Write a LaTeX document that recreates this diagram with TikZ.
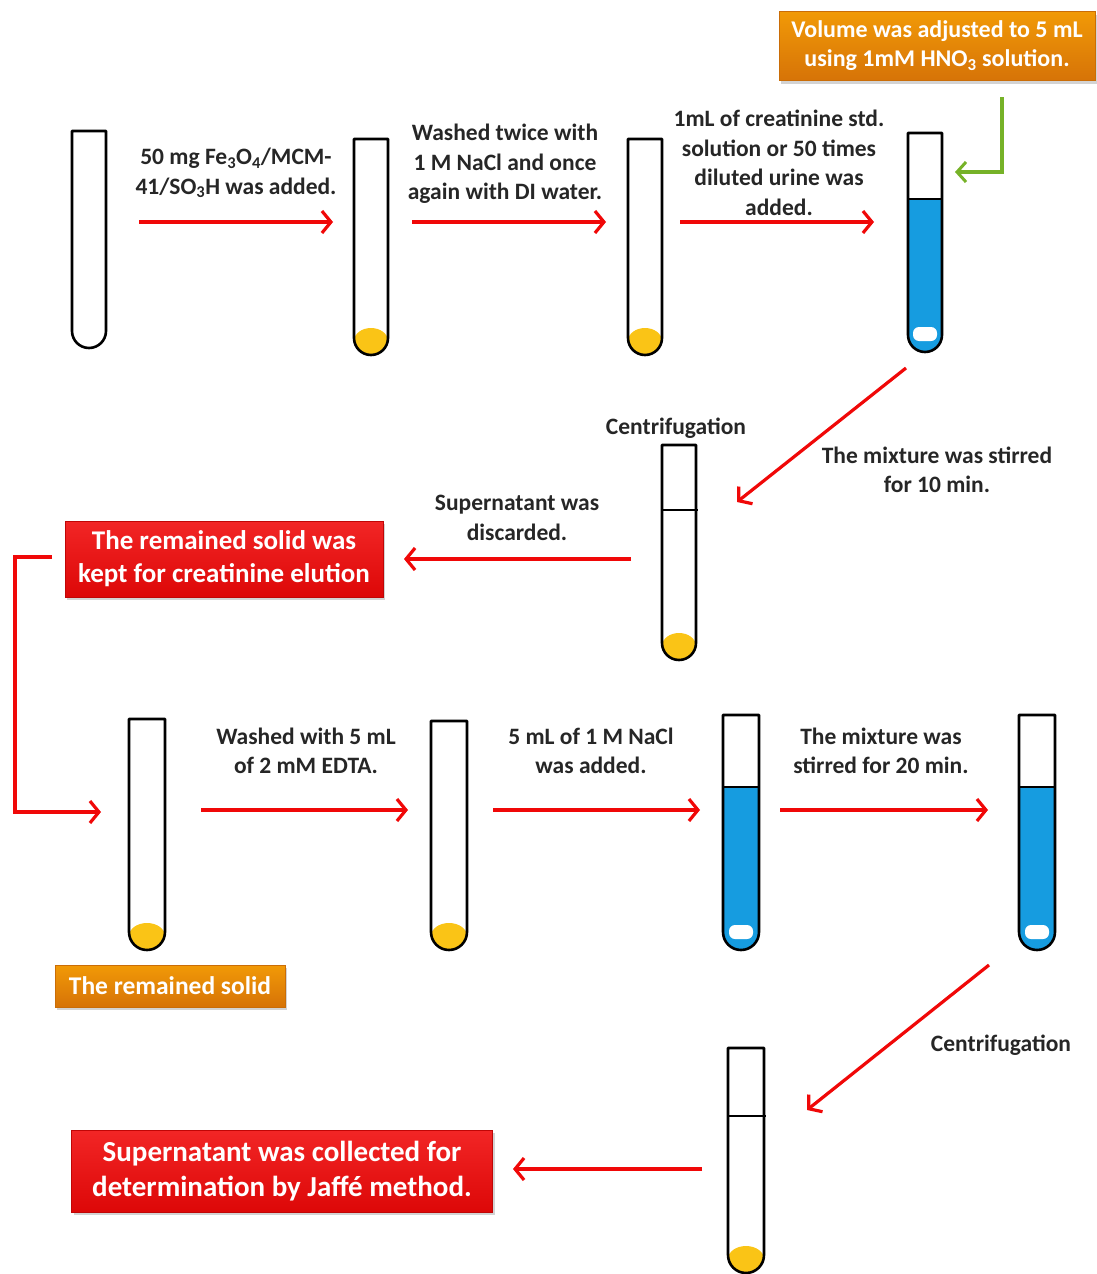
\documentclass[tikz,border=0pt]{standalone}
\usepackage{fontspec}
\setmainfont{Carlito}
\usetikzlibrary{arrows.meta,shadows}

\definecolor{flowred}{RGB}{240,8,8}
\definecolor{liquidblue}{RGB}{22,156,224}
\definecolor{pelletyellow}{RGB}{250,196,22}
\definecolor{boxorange}{RGB}{238,128,8}
\definecolor{addgreen}{RGB}{118,178,40}

% test tube: name, x, top, bottom, half width
\newcommand{\tube}[5]{%
  \coordinate (#1) at (#2,#3);
  \draw[tube] (#2-#5,#3) -- (#2-#5,#4-#5) arc (180:0:#5) -- (#2+#5,#3) -- cycle;}
% liquid: x, level, bottom, half width
\newcommand{\liquid}[4]{%
  \fill[liquidblue] (#1-#4,#2) -- (#1-#4,#3-#4) arc (180:0:#4) -- (#1+#4,#2) -- cycle;
  \fill[white,rounded corners=6pt] (#1-12,#3-25) rectangle (#1+12,#3-11);
  \draw[tube] (#1-#4,#2) -- (#1+#4,#2);}
% solid at the bottom: x, bottom, half width
\newcommand{\pellet}[3]{%
  \fill[pelletyellow] (#1,#2-14) ellipse [x radius=#3, y radius=13];}

\begin{document}
\begin{tikzpicture}[x=1pt,y=-1pt]
  \useasboundingbox (0,0) rectangle (1096,1274);
  \tikzstyle{tube}=[line width=2.6pt,line join=round]
  \tikzstyle{flow}=[draw=flowred,line width=3.2pt,-{Straight Barb[length=9pt,width=22pt,line width=3.2pt]}]
  \tikzstyle{note}=[align=center,text=black!85,font=\bfseries\fontsize{23.5}{29.5}\selectfont]
  \tikzstyle{box}=[align=center,text=white,inner sep=0pt,drop shadow={shadow xshift=2pt,shadow yshift=-3pt,opacity=0.35}]
  \tikzstyle{redbox}=[box,top color=flowred!88!white,bottom color=flowred!92!black,draw=flowred!80!black]
  \tikzstyle{orangebox}=[box,top color=boxorange!80!yellow,bottom color=boxorange!90!black,draw=boxorange!85!black]

  % first row of tubes
  \tube{t1}{89}{131}{348}{17}
  \pellet{371}{355}{17}
  \tube{t2}{371}{139}{355}{17}
  \pellet{645}{355}{17}
  \tube{t3}{645}{139}{355}{17}
  \liquid{925}{199}{352}{17}
  \tube{t4}{925}{133}{352}{17}

  % centrifuged tube
  \pellet{679}{660}{17}
  \tube{t5}{679}{445}{660}{17}
  \draw[tube] (662,510) -- (698,510);

  % elution row
  \pellet{147}{950}{18}
  \tube{t6}{147}{719}{950}{18}
  \pellet{449}{950}{18}
  \tube{t7}{449}{721}{950}{18}
  \liquid{741}{787}{950}{18}
  \tube{t8}{741}{715}{950}{18}
  \liquid{1037}{787}{950}{18}
  \tube{t9}{1037}{715}{950}{18}

  % last centrifuged tube
  \pellet{746}{1273}{18}
  \tube{t10}{746}{1048}{1273}{18}
  \draw[tube] (728,1116) -- (766,1116);

  % texts
  \node[note] (add) at (236,173) {50 mg Fe\textsubscript{3}O\textsubscript{4}/MCM-\\41/SO\textsubscript{3}H was added.};
  \node[note] (wash) at (505,164) {Washed twice with\\1 M NaCl and once\\again with DI water.};
  \node[note] (std) at (779,163) {1mL of creatinine std.\\solution or 50 times\\diluted urine was\\added.};
  \node[orangebox,minimum width=316pt,minimum height=69pt,font=\bfseries\fontsize{24}{29}\selectfont] (vol) at (937,46)
    {Volume was adjusted to 5 mL\\using 1mM HNO\textsubscript{3} solution.};
  \node[note] (cent1) at (676,428) {Centrifugation};
  \node[note] (stir1) at (937,470) {The mixture was stirred\\for 10 min.};
  \node[note] (disc) at (517,518) {Supernatant was\\discarded.};
  \node[redbox,minimum width=318pt,minimum height=76pt,font=\bfseries\fontsize{27}{33}\selectfont] (kept) at (224,559)
    {The remained solid was\\kept for creatinine elution};
  \node[note] (edta) at (306,751) {Washed with 5 mL\\of 2 mM EDTA.};
  \node[note] (nacl) at (591,751) {5 mL of 1 M NaCl\\was added.};
  \node[note] (stir2) at (881,751) {The mixture was\\stirred for 20 min.};
  \node[orangebox,minimum width=230pt,minimum height=42pt,font=\bfseries\fontsize{25.5}{28}\selectfont] (solid) at (170,986)
    {The remained solid};
  \node[note] (cent2) at (1001,1045) {Centrifugation};
  \node[redbox,minimum width=421pt,minimum height=82pt,font=\bfseries\fontsize{29}{35}\selectfont] (jaffe) at (282,1171)
    {Supernatant was collected for\\determination by Jaffé method.};

  % arrow ends
  \coordinate (a1s) at (139,222); \coordinate (a1e) at (333,222);
  \coordinate (a2s) at (412,222); \coordinate (a2e) at (606,222);
  \coordinate (a3s) at (680,222); \coordinate (a3e) at (874,222);
  \coordinate (gs) at (1002,97);  \coordinate (ge) at (955,172);
  \coordinate (a4s) at (906,368); \coordinate (a4e) at (737,502);
  \coordinate (a5s) at (631,559); \coordinate (a5e) at (404,559);
  \coordinate (ls) at (52,557);   \coordinate (le) at (101,812);
  \coordinate (a6s) at (201,810); \coordinate (a6e) at (408,810);
  \coordinate (a7s) at (493,810); \coordinate (a7e) at (700,810);
  \coordinate (a8s) at (780,810); \coordinate (a8e) at (988,810);
  \coordinate (a9s) at (989,965); \coordinate (a9e) at (807,1110);
  \coordinate (a10s) at (702,1169); \coordinate (a10e) at (513,1169);

  % arrows
  \draw[flow] (a1s) -- (a1e);
  \draw[flow] (a2s) -- (a2e);
  \draw[flow] (a3s) -- (a3e);
  \draw[flow,draw=addgreen,-{Straight Barb[length=9pt,width=20pt,line width=3pt]}] (gs) |- (ge);
  \draw[flow] (a4s) -- (a4e);
  \draw[flow] (a5s) -- (a5e);
  \draw[flow,line width=3.6pt] (ls) -- (15,557) -- (15,812) -- (le);
  \draw[flow] (a6s) -- (a6e);
  \draw[flow] (a7s) -- (a7e);
  \draw[flow] (a8s) -- (a8e);
  \draw[flow] (a9s) -- (a9e);
  \draw[flow] (a10s) -- (a10e);
\end{tikzpicture}
\end{document}
